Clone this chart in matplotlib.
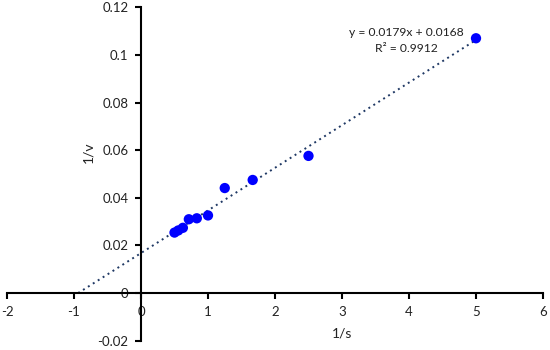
import matplotlib
matplotlib.use("Agg")
import matplotlib.pyplot as plt
import numpy as np

inv_s = [0.5, 0.556, 0.625, 0.714, 0.833, 1.0, 1.25, 1.667, 2.5, 5.0]
inv_v = [0.0254, 0.0263, 0.0274, 0.0310, 0.0314, 0.0326, 0.0441, 0.0475, 0.0576, 0.107]
slope = 0.0179
intercept = 0.0168
x_ticks = [-2, -1, 0, 1, 2, 3, 4, 5, 6]
y_ticks = [-0.02, 0, 0.02, 0.04, 0.06, 0.08, 0.1, 0.12]
y_tick_labels = ["-0.02", "0", "0.02", "0.04", "0.06", "0.08", "0.1", "0.12"]

plt.rcParams['font.family'] = ['Lato', 'DejaVu Sans']

fig = plt.figure(figsize=(5.5, 3.5), dpi=100)
ax = fig.add_axes([7/550, 1 - 340.7/350, 536/550, (340.7-7.3)/350])

# trendline (forecast back to y=0)
x0 = -intercept / slope
xl = np.array([x0, max(inv_s)])
ax.plot(xl, slope * xl + intercept, linestyle=(0, (1, 2)), color='#1f3864', lw=1.4, zorder=2)

ax.scatter(inv_s, inv_v, s=55, color='#0000ff', edgecolors='none', zorder=3)

ax.set_xlim(-2, 6)
ax.set_ylim(-0.02, 0.12)
ax.spines['left'].set_position(('data', 0))
ax.spines['bottom'].set_position(('data', 0))
ax.spines['top'].set_visible(False)
ax.spines['right'].set_visible(False)
for sp in ['left', 'bottom']:
    ax.spines[sp].set_linewidth(1.5)
ax.set_xticks(x_ticks)
ax.set_xticklabels([str(t) for t in x_ticks])
ax.set_yticks(y_ticks)
ax.set_yticklabels(y_tick_labels)
ax.tick_params(axis='both', direction='out', length=4, width=1.5, labelsize=9.5, labelcolor='#222222')
ax.tick_params(axis='x', pad=5)
ax.tick_params(axis='y', pad=5)

fig.text(342/550, 1 - 334/350, "1/s", ha='center', va='center', fontsize=10, color='#222222')
fig.text(88/550, 1 - 152/350, "1/v", ha='center', va='center', fontsize=10, rotation=90, color='#222222')

fig.text(406/550, 1 - 33/350, "y = 0.0179x + 0.0168", ha='center', va='center', fontsize=8.7, color='#222222')
fig.text(406/550, 1 - 49/350, "R² = 0.9912", ha='center', va='center', fontsize=8.7, color='#222222')

fig.savefig("out.png", dpi=100)
